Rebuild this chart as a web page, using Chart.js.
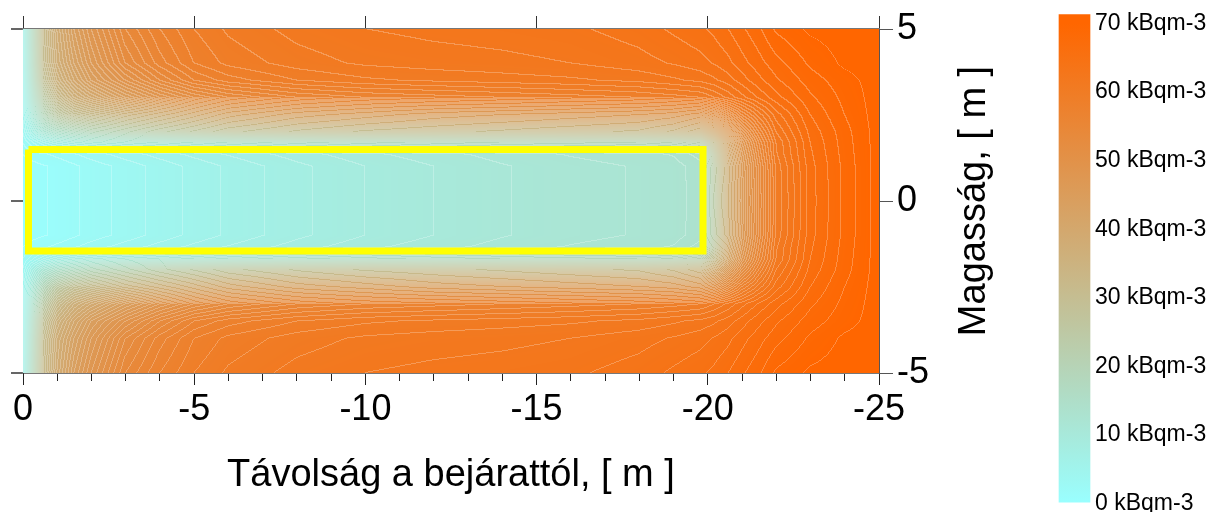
<!DOCTYPE html>
<html><head><meta charset="utf-8">
<script src="https://cdn.jsdelivr.net/npm/chart.js@4.4.1/dist/chart.umd.min.js"></script>
<style>
html,body{margin:0;padding:0;background:#fff;width:1211px;height:512px;overflow:hidden}
#main{position:absolute;left:0;top:0;width:1040px;height:512px}
#cb{position:absolute;left:1040px;top:0;width:171px;height:512px}
</style></head><body>
<div id="main"><canvas id="c1"></canvas></div>
<div id="cb"><canvas id="c2"></canvas></div>
<script>
// ---- data ----
// distance along the tunnel (m), columns of the concentration grid
const X_POS = [0, -0.3, -0.6, -1, -1.5, -2, -3, -4, -5, -6, -8, -10, -12, -14, -16, -18, -19, -19.8, -20.2, -20.6, -21, -21.5, -22, -23, -24, -25];
// |height| (m), rows of the grid (field is symmetric about 0)
const Y_POS = [0, 1.0, 1.35, 1.7, 2.0, 2.5, 3.0, 3.5, 4.0, 5.0];
// radon concentration, kBq/m3, one array per row
const ROW_Y0_0 = [0.5, 0.7, 0.9, 1.2, 1.8, 2.4, 3.4, 4.4, 5.3, 6.2, 7.7, 9.0, 10.0, 10.9, 11.6, 12.1, 12.5, 13.5, 24, 36, 45, 53, 60, 65.5, 68.3, 70.5];
const ROW_Y1_0 = [0.5, 0.7, 0.9, 1.2, 1.8, 2.4, 3.4, 4.4, 5.3, 6.2, 7.7, 9.0, 10.0, 10.9, 11.6, 12.1, 12.5, 13.6, 24.5, 36.5, 45.5, 53.2, 60.2, 65.6, 68.3, 70.5];
const ROW_Y1_35 = [1.0, 1.4, 1.8, 2.3, 2.9, 3.5, 4.5, 5.4, 6.3, 7.1, 8.5, 9.7, 10.6, 11.4, 12.1, 12.6, 13.1, 14.5, 26, 38, 46.5, 54, 60.8, 65.8, 68.4, 70.5];
const ROW_Y1_7 = [2, 4, 6, 8, 9.5, 10.5, 12, 13, 14, 15, 16.5, 17.5, 18.3, 19, 19.5, 20, 21, 23, 30, 40, 48, 55, 61, 66, 68.5, 70.5];
const ROW_Y2_0 = [3, 8, 12, 15, 17, 19, 21, 23, 24.5, 26, 27.5, 28.5, 29, 29.5, 30, 30.5, 31.5, 33, 38, 45, 51, 57, 62, 66.3, 68.6, 70.5];
const ROW_Y2_5 = [4, 12, 19, 25, 29, 31, 34, 36, 38, 40, 42, 43, 44, 44.5, 45, 45.5, 46, 47, 49, 53, 57, 60.5, 63.5, 67, 69, 70.5];
const ROW_Y3_0 = [4.5, 15, 24, 31, 36, 39, 44, 48, 51, 53, 55, 56, 56.5, 57, 57.5, 58, 58.5, 59, 60, 61.3, 62.6, 64.2, 65.6, 67.8, 69.3, 70.5];
const ROW_Y3_5 = [5, 17, 28, 35, 40, 44, 49, 53, 56, 57.5, 59, 59.8, 60.2, 60.5, 60.8, 61.3, 61.8, 62.3, 62.8, 63.5, 64.5, 65.7, 66.8, 68.5, 69.6, 70.5];
const ROW_Y4_0 = [5.5, 18, 30, 37, 42, 46, 52, 55.5, 58, 59.3, 60.5, 61.2, 61.5, 61.7, 62, 62.6, 63.1, 63.6, 64.1, 64.7, 65.6, 66.6, 67.6, 69.2, 70.2, 70.5];
const ROW_Y5_0 = [6, 19, 31, 38, 44, 48, 54, 57, 59, 60.2, 61.4, 62, 62.3, 62.5, 62.8, 63.5, 64.2, 64.8, 65.3, 66, 66.8, 67.8, 69.2, 70.2, 70.5, 70.5];
// tunnel outline (yellow rectangle)
const TUNNEL_X = [-0.16, -19.86, -19.86, -0.16, -0.16];
const TUNNEL_Y = [1.5, 1.5, -1.45, -1.45, 1.5];
// tick labels
const X_TICKS = [0, -5, -10, -15, -20, -25];
const X_MINOR_TICKS = [0, -1, -2, -3, -4, -5, -6, -7, -8, -9, -10, -11, -12, -13, -14, -15, -16, -17, -18, -19, -20, -21, -22, -23, -24, -25];
const Y_TICKS = [5, 0, -5];
const CB_TICKS = [0, 10, 20, 30, 40, 50, 60, 70];
const CB_BAR = [0.2, 71.3];
const UNIT = 'kBqm-3';
const X_TITLE = 'Távolság a bejárattól, [ m ]';
const Y_TITLE = 'Magasság, [ m ]';

// ---- styling ----
const FONT = '"Liberation Sans", Arial, Helvetica, sans-serif';
const C_LOW = [153, 255, 255], C_HIGH = [255, 102, 0];
const V_MIN = 0, V_MAX = 70, CONTOUR_STEP = 1;
const GRID = [ROW_Y0_0, ROW_Y1_0, ROW_Y1_35, ROW_Y1_7, ROW_Y2_0, ROW_Y2_5, ROW_Y3_0, ROW_Y3_5, ROW_Y4_0, ROW_Y5_0];

function colorOf(v) {
  let t = (v - V_MIN) / (V_MAX - V_MIN);
  t = Math.max(0, Math.min(1, t));
  return [C_LOW[0] + (C_HIGH[0] - C_LOW[0]) * t, C_LOW[1] + (C_HIGH[1] - C_LOW[1]) * t, C_LOW[2] + (C_HIGH[2] - C_LOW[2]) * t];
}

const heatmapPlugin = {
  id: 'heatmap',
  beforeDatasetsDraw(chart) {
    const {ctx, chartArea: a, scales} = chart;
    const xs = scales.x, ys = scales.y;
    const L = Math.round(a.left), T = Math.round(a.top);
    const W = Math.round(a.right) - L, H = Math.round(a.bottom) - T;
    const ci = new Int32Array(W + 1), ct = new Float32Array(W + 1);
    for (let p = 0; p <= W; p++) {
      const xv = xs.getValueForPixel(L + p + 0.5);
      let i = 0;
      while (i < X_POS.length - 2 && xv < X_POS[i + 1]) i++;
      const t = (X_POS[i] - xv) / (X_POS[i] - X_POS[i + 1]);
      ci[p] = i; ct[p] = Math.max(0, Math.min(1, t));
    }
    const ri = new Int32Array(H + 1), rt = new Float32Array(H + 1);
    for (let q = 0; q <= H; q++) {
      const yv = Math.abs(ys.getValueForPixel(T + q + 0.5));
      let k = 0;
      while (k < Y_POS.length - 2 && yv > Y_POS[k + 1]) k++;
      const t = (yv - Y_POS[k]) / (Y_POS[k + 1] - Y_POS[k]);
      ri[q] = k; rt[q] = Math.max(0, Math.min(1, t));
    }
    const V = new Float32Array((W + 1) * (H + 1));
    for (let q = 0; q <= H; q++) {
      const k = ri[q], ty = rt[q], r0 = GRID[k], r1 = GRID[k + 1];
      for (let p = 0; p <= W; p++) {
        const i = ci[p], tx = ct[p];
        const a0 = r0[i] + (r0[i + 1] - r0[i]) * tx;
        const a1 = r1[i] + (r1[i + 1] - r1[i]) * tx;
        V[q * (W + 1) + p] = a0 + (a1 - a0) * ty;
      }
    }
    const off = document.createElement('canvas');
    off.width = W; off.height = H;
    const octx = off.getContext('2d');
    const img = octx.createImageData(W, H);
    const d = img.data;
    for (let q = 0; q < H; q++) {
      for (let p = 0; p < W; p++) {
        const v = V[q * (W + 1) + p];
        let c = colorOf(v);
        const b = Math.floor(v / CONTOUR_STEP);
        const vr = V[q * (W + 1) + p + 1], vd = V[(q + 1) * (W + 1) + p];
        if ((Math.floor(vr / CONTOUR_STEP) !== b || Math.floor(vd / CONTOUR_STEP) !== b) && v < V_MAX) {
          const al = 0.25;
          c = [c[0] + (255 - c[0]) * al, c[1] + (255 - c[1]) * al, c[2] + (255 - c[2]) * al];
        }
        const o = (q * W + p) * 4;
        d[o] = c[0]; d[o + 1] = c[1]; d[o + 2] = c[2]; d[o + 3] = 255;
      }
    }
    octx.putImageData(img, 0, 0);
    ctx.drawImage(off, L, T);
  }
};

const yTitlePlugin = {
  id: 'yTitle',
  afterDraw(chart) {
    const ctx = chart.ctx, s = chart.scales.y, a = chart.chartArea;
    ctx.save();
    ctx.translate(s.left + 96, (a.top + a.bottom) / 2);
    ctx.rotate(-Math.PI / 2);
    ctx.font = '38px ' + FONT;
    ctx.fillStyle = '#000';
    ctx.textAlign = 'center';
    ctx.textBaseline = 'middle';
    ctx.fillText(Y_TITLE, 0, 0);
    ctx.restore();
  }
};

function setTicks(arr) { return s => { s.ticks = arr.map(v => ({value: v})); }; }

const tunnelData = TUNNEL_X.map((x, i) => ({x, y: TUNNEL_Y[i]}));

new Chart(document.getElementById('c1'), {
  type: 'scatter',
  data: {datasets: [{
    type: 'line', data: tunnelData, borderColor: '#FFFF00', borderWidth: 7,
    pointRadius: 0, tension: 0, fill: false, borderJoinStyle: 'miter', xAxisID: 'x', yAxisID: 'y'
  }]},
  options: {
    responsive: true, maintainAspectRatio: false, animation: false,
    layout: {padding: 0},
    plugins: {legend: {display: false}, tooltip: {enabled: false}},
    scales: {
      xm: {
        type: 'linear', position: 'bottom', reverse: true, min: -25, max: 0, weight: 0, z: 1,
        afterBuildTicks: setTicks(X_MINOR_TICKS),
        ticks: {display: false},
        grid: {drawOnChartArea: false, drawTicks: true, tickLength: 8, color: '#222', lineWidth: 1},
        border: {display: false},
        afterFit: s => { s.height = 0; s.paddingLeft = 0; s.paddingRight = 0; }
      },
      x: {
        type: 'linear', position: 'bottom', reverse: true, min: -25, max: 0, weight: 1, z: 1,
        afterBuildTicks: setTicks(X_TICKS),
        ticks: {font: {family: FONT, size: 36}, color: '#000', padding: 3, maxRotation: 0, autoSkip: false, callback: v => String(v)},
        grid: {drawOnChartArea: false, drawTicks: true, tickLength: 12, color: '#222', lineWidth: 1},
        border: {display: true, color: '#777', width: 2},
        title: {display: true, text: X_TITLE, font: {family: FONT, size: 38}, color: '#000', padding: {top: 0, bottom: 14}},
        afterFit: s => { s.height = 139; s.paddingLeft = 0; s.paddingRight = 0; }
      },
      x2: {
        type: 'linear', position: 'top', reverse: true, min: -25, max: 0, z: 1,
        afterBuildTicks: setTicks(X_TICKS),
        ticks: {display: false},
        grid: {drawOnChartArea: false, drawTicks: true, tickLength: 13, color: '#333', lineWidth: 1},
        border: {display: true, color: '#777', width: 2},
        afterFit: s => { s.height = 29; s.paddingLeft = 0; s.paddingRight = 0; }
      },
      y: {
        type: 'linear', position: 'right', min: -5, max: 5, z: 1,
        afterBuildTicks: setTicks(Y_TICKS),
        ticks: {font: {family: FONT, size: 36}, color: '#000', padding: 4, callback: v => String(v)},
        grid: {drawOnChartArea: false, drawTicks: true, tickLength: 14, color: '#555', lineWidth: 1},
        border: {display: true, color: '#555', width: 1},
        afterFit: s => { s.width = 161; s.paddingTop = 0; s.paddingBottom = 0; }
      },
      y2: {
        type: 'linear', position: 'left', min: -5, max: 5, z: 1,
        afterBuildTicks: setTicks(Y_TICKS),
        ticks: {display: false},
        grid: {drawOnChartArea: false, drawTicks: true, tickLength: 12, color: '#666', lineWidth: 2},
        border: {display: true, color: '#333', width: 1},
        afterFit: s => { s.width = 23; s.paddingTop = 0; s.paddingBottom = 0; }
      }
    }
  },
  plugins: [heatmapPlugin, yTitlePlugin]
});

new Chart(document.getElementById('c2'), {
  type: 'bar',
  data: {labels: [''], datasets: [{
    data: [CB_BAR], borderWidth: 0, barPercentage: 1, categoryPercentage: 1, clip: false,
    backgroundColor: (ctx) => {
      const ch = ctx.chart;
      if (!ch.chartArea) return 'rgb(200,180,130)';
      const ys = ch.scales.y;
      const g = ch.ctx.createLinearGradient(0, ys.getPixelForValue(V_MIN), 0, ys.getPixelForValue(V_MAX));
      g.addColorStop(0, `rgb(${C_LOW.join(',')})`);
      g.addColorStop(1, `rgb(${C_HIGH.join(',')})`);
      return g;
    }
  }]},
  options: {
    responsive: true, maintainAspectRatio: false, animation: false,
    layout: {padding: {left: 19, top: 23.4, bottom: 8.4, right: 0}},
    plugins: {legend: {display: false}, tooltip: {enabled: false}},
    scales: {
      x: {display: false},
      y: {
        position: 'right', min: V_MIN, max: V_MAX,
        afterBuildTicks: setTicks(CB_TICKS),
        ticks: {font: {family: FONT, size: 23}, color: '#000', padding: 5, callback: v => `${v} ${UNIT}`},
        grid: {display: false, drawTicks: false},
        border: {display: false},
        afterFit: s => { s.width = 121; s.paddingTop = 0; s.paddingBottom = 0; }
      }
    }
  }
});
</script>
</body></html>
